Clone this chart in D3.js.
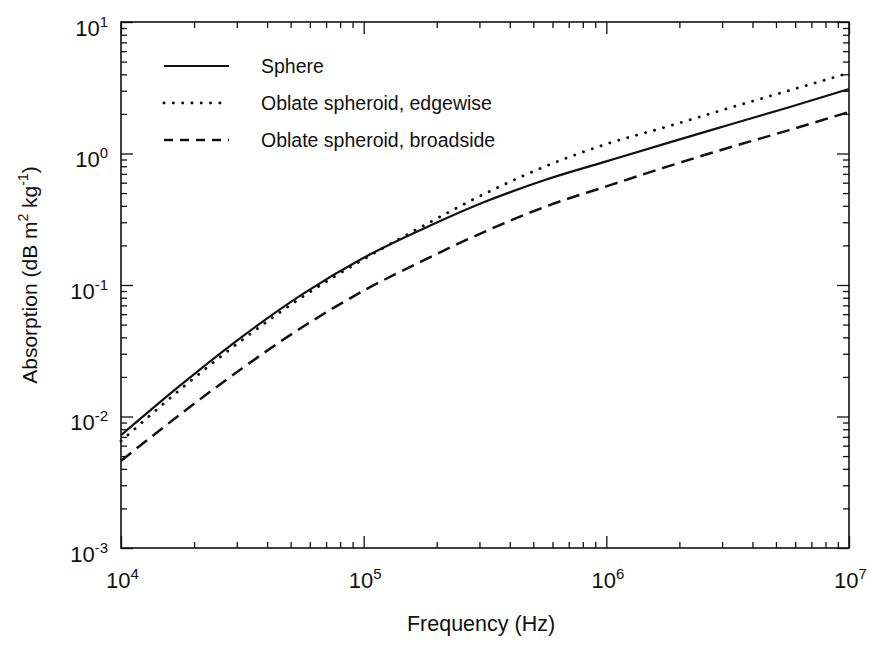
<!DOCTYPE html>
<html>
<head>
<meta charset="utf-8">
<script src="https://cdn.jsdelivr.net/npm/d3@7"></script>
<style>
  body { margin: 0; background: #fff; }
  svg { display: block; font-family: "Liberation Sans", Arial, Helvetica, sans-serif; }
</style>
</head>
<body>
<svg id="chart" width="869" height="645"></svg>
<script>
// ---- data ----
const seriesNames = ["Sphere", "Oblate spheroid, edgewise", "Oblate spheroid, broadside"];

const freqs = [1e4, 1.78e4, 3.16e4, 5.62e4, 1e5, 1.78e5, 3.16e5, 5.62e5, 1e6, 1.78e6, 3.16e6, 5.62e6, 1e7];

const valSphere    = [0.0072, 0.0176, 0.0405, 0.0855, 0.161, 0.270, 0.429, 0.631, 0.871, 1.20, 1.64, 2.24, 3.09];
const valEdgewise  = [0.0065, 0.0164, 0.0382, 0.0817, 0.157, 0.285, 0.495, 0.80, 1.18, 1.60, 2.20, 3.00, 4.10];
const valBroadside = [0.0046, 0.0106, 0.0233, 0.0481, 0.0906, 0.155, 0.255, 0.395, 0.562, 0.794, 1.10, 1.50, 2.07];

const xMajorExps = [4, 5, 6, 7];
const yMajorExps = [-3, -2, -1, 0, 1];
const xTitle = "Frequency (Hz)";

// ---- layout ----
const svg = d3.select("#chart");
const L = 121, R = 849, T = 22, B = 548;

const x = d3.scaleLog().domain([1e4, 1e7]).range([L, R]);
const y = d3.scaleLog().domain([1e-3, 1e1]).range([B, T]);

const xMajor = xMajorExps.map(e => Math.pow(10, e));
const yMajor = yMajorExps.map(e => Math.pow(10, e));
const xMinor = x.ticks().filter(v => !xMajor.some(m => Math.abs(m - v) / m < 1e-9));
const yMinor = y.ticks().filter(v => !yMajor.some(m => Math.abs(m - v) / m < 1e-9));

function styleAxis(g) {
  g.select(".domain").remove();
  g.selectAll(".tick line").attr("stroke", "#111").attr("stroke-width", 1.3);
}

// bottom axis
svg.append("g").attr("transform", `translate(0,${B})`)
  .call(d3.axisBottom(x).tickValues(xMinor).tickSize(-6).tickFormat(""))
  .call(styleAxis);
const gxMaj = svg.append("g").attr("transform", `translate(0,${B})`)
  .call(d3.axisBottom(x).tickValues(xMajor).tickSize(-12))
  .call(styleAxis);
// top axis
svg.append("g").attr("transform", `translate(0,${T})`)
  .call(d3.axisTop(x).tickValues(xMinor).tickSize(-6).tickFormat(""))
  .call(styleAxis);
svg.append("g").attr("transform", `translate(0,${T})`)
  .call(d3.axisTop(x).tickValues(xMajor).tickSize(-12).tickFormat(""))
  .call(styleAxis);
// left axis
svg.append("g").attr("transform", `translate(${L},0)`)
  .call(d3.axisLeft(y).tickValues(yMinor).tickSize(-6).tickFormat(""))
  .call(styleAxis);
const gyMaj = svg.append("g").attr("transform", `translate(${L},0)`)
  .call(d3.axisLeft(y).tickValues(yMajor).tickSize(-12))
  .call(styleAxis);
// right axis
svg.append("g").attr("transform", `translate(${R},0)`)
  .call(d3.axisRight(y).tickValues(yMinor).tickSize(-6).tickFormat(""))
  .call(styleAxis);
svg.append("g").attr("transform", `translate(${R},0)`)
  .call(d3.axisRight(y).tickValues(yMajor).tickSize(-12).tickFormat(""))
  .call(styleAxis);

// superscript tick labels
function powLabel(sel, exps, anchor, tx, ty) {
  sel.selectAll(".tick text").each(function(d, i) {
    const t = d3.select(this);
    t.text(null).attr("fill", "#111").attr("font-size", 22)
      .attr("text-anchor", anchor).attr("x", tx).attr("y", ty).attr("dy", 0);
    t.append("tspan").text("10");
    t.append("tspan").attr("dy", -9).attr("font-size", 15).text(String(exps[i]));
  });
}
powLabel(gxMaj, xMajorExps, "middle", 1, 40);
powLabel(gyMaj, yMajorExps, "end", -13, 13);

// frame
svg.append("rect").attr("x", L).attr("y", T).attr("width", R - L).attr("height", B - T)
  .attr("fill", "none").attr("stroke", "#111").attr("stroke-width", 1.6);

// lines
const line = d3.line().x(d => x(d[0])).y(d => y(d[1])).curve(d3.curveMonotoneX);
const styles = [
  { dash: null, width: 2.2, cap: "butt" },
  { dash: "0.1 9.2", width: 2.9, cap: "round" },
  { dash: "13 7", width: 2.5, cap: "butt" }
];
const series = [
  d3.zip(freqs, valSphere),
  d3.zip(freqs, valEdgewise),
  d3.zip(freqs, valBroadside)
];
series.forEach((s, i) => {
  svg.append("path").datum(s).attr("d", line)
    .attr("fill", "none").attr("stroke", "#111")
    .attr("stroke-width", styles[i].width)
    .attr("stroke-linecap", styles[i].cap)
    .attr("stroke-dasharray", styles[i].dash);
});

// legend
const legY = [66, 103, 140];
const legendDash = [null, "0.1 9.2", "9 7"];
seriesNames.forEach((name, i) => {
  svg.append("line").attr("x1", 164).attr("x2", 229).attr("y1", legY[i]).attr("y2", legY[i])
    .attr("stroke", "#111").attr("stroke-width", styles[i].width)
    .attr("stroke-linecap", styles[i].cap)
    .attr("stroke-dasharray", legendDash[i]);
  svg.append("text").attr("x", 261).attr("y", legY[i] + 7)
    .attr("font-size", 19.5).attr("fill", "#111").text(name);
});

// axis titles
svg.append("text").attr("x", 481).attr("y", 631).attr("text-anchor", "middle")
  .attr("font-size", 21.5).attr("fill", "#111").text(xTitle);

const yt = svg.append("text").attr("transform", `translate(37,${(T + B) / 2 - 10}) rotate(-90)`)
  .attr("text-anchor", "middle").attr("font-size", 21).attr("fill", "#111");
yt.append("tspan").text("Absorption (dB m");
yt.append("tspan").attr("dy", -9).attr("font-size", 14).text("2");
yt.append("tspan").attr("dy", 9).text(" kg");
yt.append("tspan").attr("dy", -9).attr("font-size", 14).text("-1");
yt.append("tspan").attr("dy", 9).text(")");
</script>
</body>
</html>
